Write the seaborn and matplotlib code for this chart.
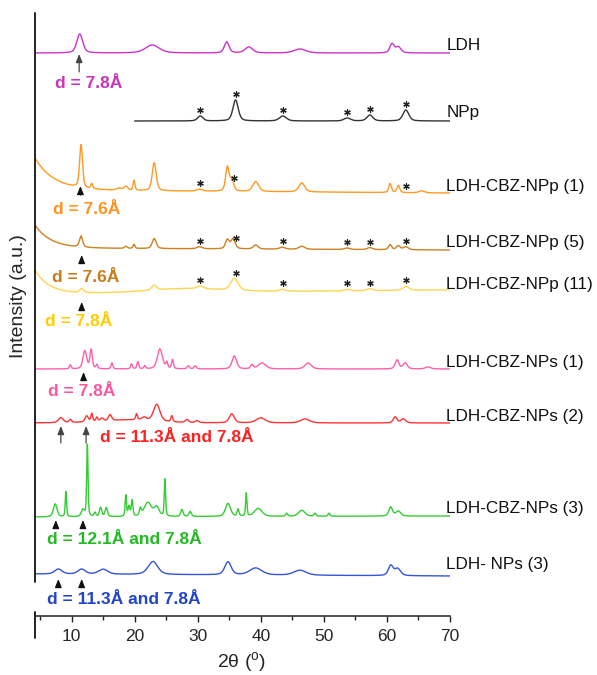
import numpy as np
import pandas as pd
import matplotlib
matplotlib.use("Agg")
import matplotlib.pyplot as plt
import seaborn as sns
from matplotlib.ticker import MultipleLocator

# ---------------- data (2theta in degrees, intensity in a.u.) ----------------
LABELS = ["LDH", "NPp", "LDH-CBZ-NPp (1)", "LDH-CBZ-NPp (5)", "LDH-CBZ-NPp (11)",
          "LDH-CBZ-NPs (1)", "LDH-CBZ-NPs (2)", "LDH-CBZ-NPs (3)", "LDH- NPs (3)"]
LINE_COLORS = ["#cc33cc", "#333333", "#ff9922", "#cc8020", "#ffd54f",
               "#ff5fa8", "#ff3333", "#33cc33", "#3355dd"]
X_START = [4.2, 20.0, 4.2, 4.2, 4.2, 4.2, 4.2, 4.2, 4.2]
X_END = 70.0
BASE_START = [563, 495, 426, 368, 322, 247, 193, 99, 42]
BASE_END = [563, 495, 423, 366, 326, 247, 193, 100, 40]
LOWANGLE_AMP = [0, 0, 32, 23, 24, 0, 0, 0, 0]
LOWANGLE_DECAY = [1, 1, 3.0, 2.5, 2.2, 1, 1, 1, 1]

# peaks: (2theta, height, FWHM)
LDH_PEAKS = [(11.3, 19, 1.1), (22.8, 8, 2.6), (34.6, 11, 0.9), (38.1, 6, 1.4),
             (46.2, 4, 2.2), (60.8, 9, 0.8), (61.8, 6, 1.0)]
NPP_PEAKS = [(30.4, 5, 1.0), (36.0, 21, 1.0), (43.5, 5, 1.3), (53.7, 3, 1.2),
             (57.3, 6, 1.1), (63.0, 11, 1.1)]
NPP1_PEAKS = [(11.5, 43, 0.55), (13.2, 5, 0.35), (17.5, 2, 0.9), (18.6, 4, 0.7),
              (19.9, 10, 0.35), (23.1, 28, 0.75), (30.3, 2, 1.0), (34.7, 24, 0.65),
              (35.4, 11, 0.7), (39.2, 10, 1.1), (46.5, 9, 1.1), (60.5, 9, 0.5),
              (61.8, 7, 0.55), (65.5, 2, 1.0)]
NPP5_PEAKS = [(11.5, 11, 0.6), (18.6, 2, 0.5), (19.9, 4, 0.35), (23.1, 10, 0.75),
              (30.3, 2, 1.0), (34.7, 9, 0.7), (35.6, 10, 0.8), (39.2, 4, 0.9),
              (43.4, 2, 1.0), (46.5, 3, 1.1), (53.7, 1.5, 1.0), (57.3, 2, 1.0),
              (60.5, 5, 0.6), (61.8, 4, 0.7), (63.0, 3, 0.9)]
NPP11_PEAKS = [(11.6, 4, 0.7), (23.1, 5, 0.9), (28.0, 4, 14.0), (30.4, 3, 1.1),
               (35.8, 12, 1.4), (43.4, 2, 1.1), (53.7, 1.5, 1.0), (57.3, 2, 1.1),
               (63.0, 4, 1.1)]
NPS1_PEAKS = [(9.8, 4, 0.35), (12.1, 18, 0.7), (13.1, 19, 0.45), (14.0, 4, 0.35),
              (16.4, 6, 0.35), (19.5, 5, 0.35), (20.5, 7, 0.35), (21.6, 3, 0.35),
              (24.0, 20, 0.95), (25.1, 6, 0.35), (26.0, 9, 0.35), (28.5, 3, 0.45),
              (29.6, 3, 0.45), (35.8, 13, 0.85), (38.6, 4, 0.5), (40.2, 6, 1.4),
              (47.5, 6, 1.2), (61.6, 9, 0.7), (62.9, 6, 0.8), (66.5, 2, 1.0)]
NPS2_PEAKS = [(8.3, 5, 0.9), (9.8, 3, 0.45), (12.4, 6, 0.6), (13.2, 8, 0.35),
              (14.0, 4, 0.35), (14.8, 3, 0.6), (16.1, 6, 0.6), (19.0, 3, 10.0),
              (20.3, 6, 0.35), (21.5, 3, 0.9), (23.5, 17, 1.2), (25.9, 6, 0.35),
              (28.3, 3, 0.6), (29.9, 2, 0.6), (35.4, 9, 0.95), (40.0, 5, 1.7),
              (47.0, 4, 1.7), (61.3, 6, 0.7), (62.6, 4, 0.9)]
NPS3_PEAKS = [(7.4, 13, 0.7), (9.1, 25, 0.25), (11.8, 7, 0.6), (12.5, 72, 0.25),
              (13.7, 4, 0.35), (14.6, 9, 0.45), (15.5, 9, 0.45), (18.6, 21, 0.25),
              (19.1, 10, 0.35), (19.6, 16, 0.3), (20.9, 7, 0.35), (22.1, 14, 1.4),
              (23.5, 9, 0.9), (24.8, 37, 0.25), (27.5, 7, 0.45), (28.8, 5, 0.45),
              (34.8, 13, 0.95), (36.4, 7, 0.35), (37.7, 23, 0.25), (39.6, 8, 1.4),
              (44.1, 3, 0.35), (46.5, 6, 1.2), (48.6, 3, 0.35), (50.8, 3, 0.35),
              (60.6, 9, 0.7), (61.8, 5, 0.9)]
LDHNPS3_PEAKS = [(7.9, 5, 1.4), (11.6, 5, 1.4), (15.0, 5, 1.7), (22.9, 13, 1.8),
                 (34.8, 13, 1.2), (39.2, 7, 2.3), (46.2, 5, 2.3), (60.6, 10, 0.9),
                 (61.7, 7, 1.1)]
PEAKS = [LDH_PEAKS, NPP_PEAKS, NPP1_PEAKS, NPP5_PEAKS, NPP11_PEAKS,
         NPS1_PEAKS, NPS2_PEAKS, NPS3_PEAKS, LDHNPS3_PEAKS]

# asterisks marking NPp reflections
NPP_STARS = [30.4, 36.0, 43.5, 53.7, 57.3, 63.0]
NPP1_STARS = [30.3, 35.7, 63.0]
STAR_SETS = {1: NPP_STARS, 2: NPP1_STARS, 3: NPP_STARS, 4: NPP_STARS}

# interlayer-distance annotations
D_TEXTS = ["d = 7.8Å", "d = 7.6Å", "d = 7.6Å", "d = 7.8Å", "d = 7.8Å",
           "d = 11.3Å and 7.8Å", "d = 12.1Å and 7.8Å", "d = 11.3Å and 7.8Å"]
D_COLORS = ["#cc33bb", "#ff9320", "#c97a18", "#ffcc00", "#ff55a0",
            "#ff2020", "#22bb22", "#2244cc"]
D_ARROW_X = [[11.2], [11.4], [11.6], [11.6], [11.9], [8.3, 12.3], [7.5, 11.8], [7.9, 11.6]]


def pattern(i):
    x = np.arange(X_START[i], X_END + 1e-9, 0.02)
    t = (x - x[0]) / (x[-1] - x[0])
    y = BASE_START[i] + (BASE_END[i] - BASE_START[i]) * t
    y = y + LOWANGLE_AMP[i] * np.exp(-(x - 4.2) / LOWANGLE_DECAY[i])
    for pos, h, w in PEAKS[i]:
        hw = w / 2.0
        lor = 1.0 / (1.0 + ((x - pos) / hw) ** 2)
        gau = np.exp(-np.log(2) * ((x - pos) / hw) ** 2)
        y = y + h * (0.45 * lor + 0.55 * gau)
    return x, y


frames = []
for i, lab in enumerate(LABELS):
    x, y = pattern(i)
    frames.append(pd.DataFrame({"two_theta": x, "intensity": y, "sample": lab}))
df = pd.concat(frames, ignore_index=True)

# ---------------- figure ----------------
sns.set_style("ticks")
plt.rcParams["font.family"] = ["Liberation Sans", "DejaVu Sans"]
plt.rcParams["mathtext.fontset"] = "custom"
plt.rcParams["mathtext.rm"] = "Liberation Sans"

fig = plt.figure(figsize=(5.97, 6.75), dpi=100)
ax = fig.add_axes([35 / 597, 59 / 675, 415 / 597, 603 / 675])

sns.lineplot(data=df, x="two_theta", y="intensity", hue="sample",
             hue_order=LABELS, palette=dict(zip(LABELS, LINE_COLORS)),
             linewidth=1.0, legend=False, ax=ax, estimator=None, sort=False)

ax.set_xlim(4.2, 70)
ax.set_ylim(0, 603)

# asterisks
for i, stars in STAR_SETS.items():
    x, y = pattern(i)
    sy = np.interp(stars, x, y) + 6
    ax.scatter(stars, sy, marker=(6, 2, 0), s=16, color="#222222",
               linewidths=0.9, zorder=5)

# sample labels on the right
LABEL_Y = [571, 503, 430, 373, 331, 253, 199, 108, 51]
for lab, ly in zip(LABELS, LABEL_Y):
    ax.text(69.4, ly, lab, ha="left", va="center", fontsize=12.3, color="#111111",
            clip_on=False)

# d-spacing texts and arrows
D_TEXT_POS = [(7.4, 533), (7.05, 406), (6.9, 339), (5.8, 295), (6.3, 224),
              (14.5, 179), (6.1, 76), (6.1, 16)]
D_ARROW_Y = [(544, 562), (421, 430), (353, 361), (306, 314), (236, 244),
             (173, 190), (88, 96), (29, 37)]
for k, txt in enumerate(D_TEXTS):
    tx, ty = D_TEXT_POS[k]
    ax.text(tx, ty, txt, ha="left", va="center", fontsize=12.5, fontweight="bold",
            color=D_COLORS[k])
    y0, y1 = D_ARROW_Y[k]
    long_arrow = (y1 - y0) > 12
    for axx in D_ARROW_X[k]:
        ax.annotate("", xy=(axx, y1), xytext=(axx, y0),
                    arrowprops=dict(arrowstyle="-|>,head_length=0.55,head_width=0.22",
                                    color="#111111" if not long_arrow else "#444444",
                                    lw=0.9, mutation_scale=9,
                                    shrinkA=0, shrinkB=0))

# axes styling
for s in ["top", "right", "left"]:
    ax.spines[s].set_visible(False)
ax.spines["bottom"].set_linewidth(1.1)
ax.spines["bottom"].set_color("#222222")
ax.set_yticks([])
ax.xaxis.set_major_locator(MultipleLocator(10))
ax.xaxis.set_minor_locator(MultipleLocator(5))
ax.tick_params(axis="x", which="major", direction="out", length=4.5, width=1.0,
               labelsize=12.5, pad=5, color="#222222")
ax.tick_params(axis="x", which="minor", direction="out", length=3, width=1.0,
               color="#222222")
ax.set_xticks([10, 20, 30, 40, 50, 60, 70])

# broken left axis line
yt = ax.get_yaxis_transform()
ax.plot([0, 0], [603, 34], transform=yt, clip_on=False, color="#222222", lw=1.4)
ax.plot([0, 0], [4, -22], transform=yt, clip_on=False, color="#222222", lw=1.4)

ax.set_xlabel(r"2θ ($^{\mathrm{o}}$)", fontsize=14)
ax.xaxis.label.set_va("center")
ax.xaxis.set_label_coords(0.499, -0.078)
ax.set_ylabel("Intensity (a.u.)", fontsize=14)
ax.yaxis.label.set_va("center")
ax.yaxis.set_label_coords(-0.040, 0.531)

fig.savefig("out.png", dpi=100)
